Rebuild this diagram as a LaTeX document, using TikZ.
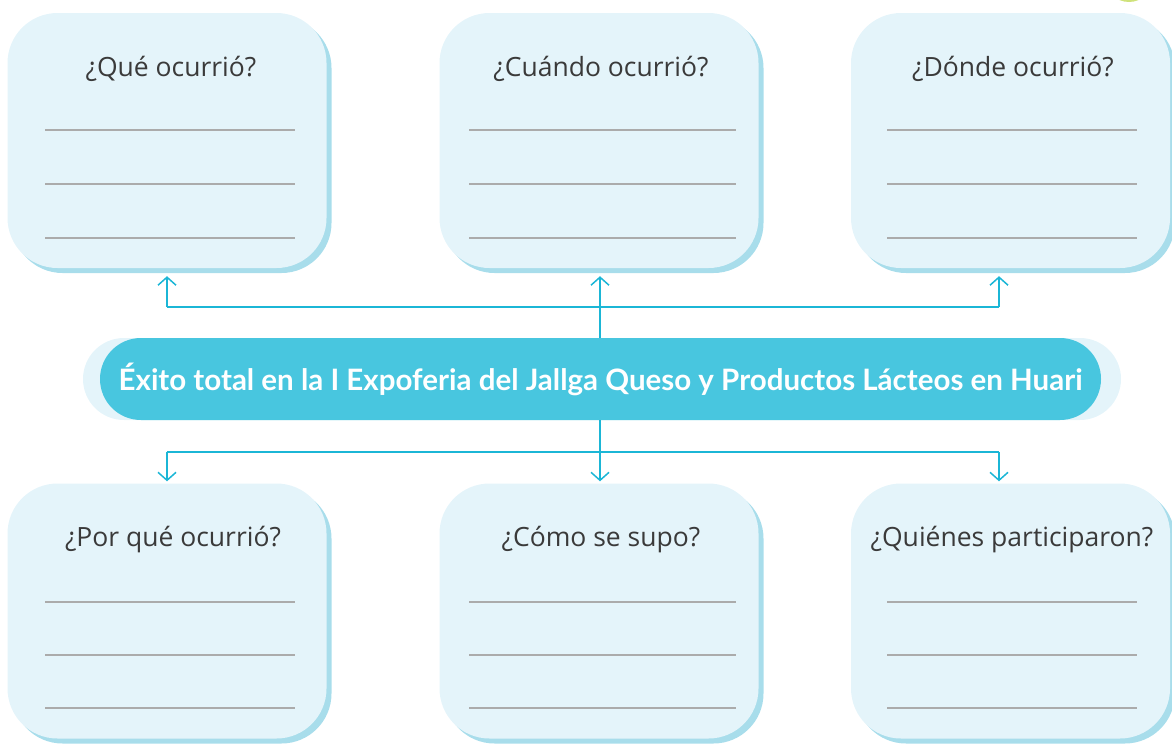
\documentclass[tikz,border=0pt]{standalone}
\usepackage{fontspec}
\usetikzlibrary{arrows.meta,shadows}
\newfontfamily\qfont{Open Sans}
\newfontfamily\bfont{Lato}
\definecolor{boxfill}{HTML}{E4F4FA}
\definecolor{boxshadow}{HTML}{A8DDEB}
\definecolor{pill}{HTML}{48C6DF}
\definecolor{conncol}{HTML}{1BB6D6}
\definecolor{rulegray}{HTML}{ABABAB}
\definecolor{qtext}{HTML}{3A3A3A}
\definecolor{lime}{HTML}{CFE27A}
\begin{document}
\begin{tikzpicture}[x=1pt,y=-1pt,
  qbox/.style={draw=none,fill=boxfill,rounded corners=50pt,minimum width=319pt,minimum height=255pt,inner sep=0pt,
    copy shadow={shadow xshift=5pt,shadow yshift=-5pt,fill=boxshadow,draw=none}},
  qtitle/.style={anchor=base,text=qtext,font=\qfont\fontsize{26.5}{31}\selectfont,inner sep=0pt},
  wline/.style={draw=rulegray,line width=1.2pt},
  conn/.style={draw=conncol,line width=1.5pt},
  arr/.style={conn,-{Straight Barb[length=8pt,width=18pt,line width=1.5pt]}},
]
\useasboundingbox (0,0) rectangle (1172,744);
\begin{scope}
\clip (0,0) rectangle (1172,744);
\fill[lime] (1129,-22) circle (24);
% boxes
\node[qbox] (q1) at (167,140.5) {};
\node[qbox] (q2) at (599,140.5) {};
\node[qbox] (q3) at (1010.5,140.5) {};
\node[qbox] (q4) at (167,611) {};
\node[qbox] (q5) at (599,611) {};
\node[qbox] (q6) at (1010.5,611) {};
\end{scope}
% titles
\node[qtitle] (t1) at (171,76) {¿Qué ocurrió?};
\node[qtitle] (t2) at (601,76) {¿Cuándo ocurrió?};
\node[qtitle] (t3) at (1013,76) {¿Dónde ocurrió?};
\node[qtitle] (t4) at (173,546) {¿Por qué ocurrió?};
\node[qtitle] (t5) at (601,546) {¿Cómo se supo?};
\node[qtitle] (t6) at (1012,546) {¿Quiénes participaron?};
% writing lines
\foreach \y in {130,184,238}{
  \draw[wline] (45,\y) -- (295,\y);
  \draw[wline] (469,\y) -- (736,\y);
  \draw[wline] (887,\y) -- (1137,\y);
}
\foreach \y in {602,655,708}{
  \draw[wline] (45,\y) -- (295,\y);
  \draw[wline] (469,\y) -- (736,\y);
  \draw[wline] (887,\y) -- (1137,\y);
}
% banner
\node[fill=boxfill,rounded corners=41pt,minimum width=1038pt,minimum height=82pt,inner sep=0pt] (bback) at (602,379) {};
\node[fill=pill,rounded corners=41pt,minimum width=1001pt,minimum height=82pt,inner sep=0pt,text=white,
  font=\bfont\bfseries\fontsize{29.5}{34}\selectfont] (banner) at (600.5,379) {Éxito total en la I Expoferia del Jallga Queso y Productos Lácteos en Huari};
% connectors
\coordinate (ja) at (600,307);
\coordinate (ja1) at (167,307);
\coordinate (ja3) at (999,307);
\coordinate (jb) at (600,452);
\coordinate (jb1) at (167,452);
\coordinate (jb3) at (999,452);
\draw[conn] (ja1) -- (ja3);
\draw[conn] (jb1) -- (jb3);
\draw[arr] (banner.north -| ja) -- (ja) -- ([yshift=-8pt]ja |- q2.south);
\draw[arr] (ja1) -- ([yshift=-8pt]ja1 |- q1.south);
\draw[arr] (ja3) -- ([yshift=-8pt]ja3 |- q3.south);
\draw[arr] (banner.south -| jb) -- (jb) -- ([yshift=2pt]jb |- q5.north);
\draw[arr] (jb1) -- ([yshift=2pt]jb1 |- q4.north);
\draw[arr] (jb3) -- ([yshift=2pt]jb3 |- q6.north);
\end{tikzpicture}
\end{document}
